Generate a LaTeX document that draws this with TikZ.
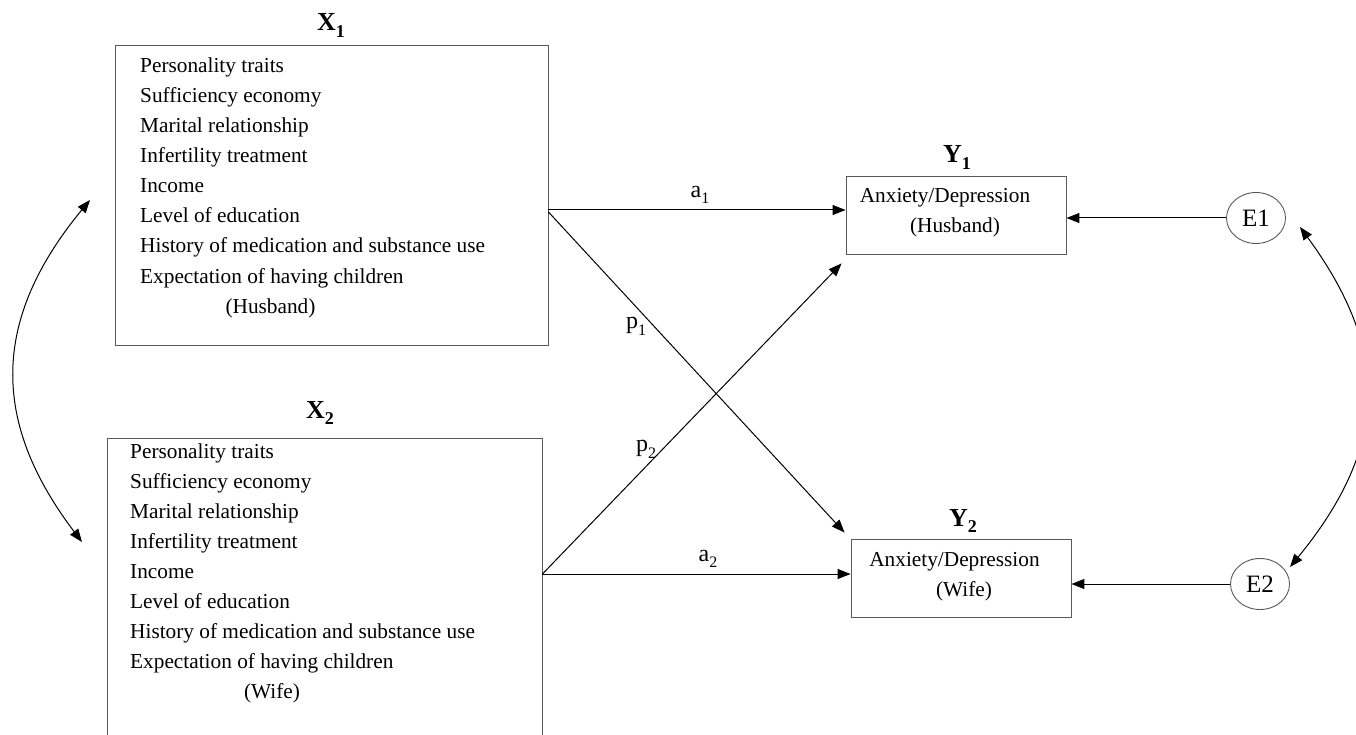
\documentclass[tikz,border=0pt]{standalone}
\usepackage{fontspec}
\setmainfont{Liberation Serif}
\usetikzlibrary{arrows.meta,shapes.geometric,calc}
\newcommand\lowsub[1]{\raisebox{-0.28em}{\fontsize{16}{16}\selectfont #1}}
\newcommand\blowsub[1]{\raisebox{-0.25em}{\fontsize{18}{18}\selectfont\bfseries #1}}
\tikzset{
  txt/.style={inner sep=0pt, font=\fontsize{21.3}{30}\selectfont},
  itm/.style={txt, anchor=base west},
  ctr/.style={txt, anchor=base},
  head/.style={inner sep=0pt, anchor=base, font=\fontsize{26}{30}\selectfont\bfseries},
  varbox/.style={draw=black!65, line width=0.9pt, rectangle, inner sep=0pt},
  err/.style={draw=black!65, line width=0.9pt, ellipse, inner sep=0pt,
    minimum width=59pt, minimum height=51pt, font=\fontsize{25}{25}\selectfont},
  lbl/.style={inner sep=0pt, font=\fontsize{24}{24}\selectfont},
  arr/.style={line width=1pt, -{Triangle[length=13pt,width=10pt]}},
  darr/.style={line width=1pt, {Triangle[length=13pt,width=10pt]}-{Triangle[length=13pt,width=10pt]}}
}
\begin{document}
\begin{tikzpicture}[x=1pt,y=-1pt]
\useasboundingbox (0,0) rectangle (1356,735);
\clip (0,0) rectangle (1356,735);
% boxes
\node[varbox, minimum width=433pt, minimum height=300pt] (X1box) at (331.5,195) {};
\node[varbox, minimum width=435pt, minimum height=330pt] (X2box) at (324.5,603) {};
\node[varbox, minimum width=220pt, minimum height=78pt] (Y1box) at (956,215) {};
\node[varbox, minimum width=220pt, minimum height=78pt] (Y2box) at (961,578) {};
\node[err] (E1) at (1256,218) {E1};
\node[err] (E2) at (1260,584) {E2};
% headings
\node[head] (X1lab) at (331,31) {X\blowsub{1}};
\node[head] (X2lab) at (320,418) {X\blowsub{2}};
\node[head] (Y1lab) at (957,163) {Y\blowsub{1}};
\node[head] (Y2lab) at (963,526) {Y\blowsub{2}};
% X1 items
\foreach \txtitem [count=\i] in {Personality traits, Sufficiency economy, Marital relationship, Infertility treatment, Income, Level of education, History of medication and substance use, Expectation of having children}
  \node[itm] (X1t\i) at (140,{73+30*(\i-1)}) {\txtitem};
\node[ctr] (X1who) at (270.5,313) {(Husband)};
% X2 items
\foreach \txtitem [count=\i] in {Personality traits, Sufficiency economy, Marital relationship, Infertility treatment, Income, Level of education, History of medication and substance use, Expectation of having children}
  \node[itm] (X2t\i) at (130,{458+30*(\i-1)}) {\txtitem};
\node[ctr] (X2who) at (272,698) {(Wife)};
% Y texts
\node[ctr] (Y1t) at (945,203) {Anxiety/Depression};
\node[ctr] (Y1who) at (955,233) {(Husband)};
\node[ctr] (Y2t) at (954.5,566) {Anxiety/Depression};
\node[ctr] (Y2who) at (964,596) {(Wife)};
% path origins
\coordinate (o1) at (X1box.east |- 0,210);
\coordinate (o2) at (X2box.east |- 0,574);
% connectors
\draw[arr] (o1) -- (Y1box.west |- o1);
\draw[arr] ($(o1)+(0,2)$) -- ($(Y2box.north west)+(-6,-6)$);
\draw[arr] (o2) -- ($(Y1box.south west)+(-4,9)$);
\draw[arr] (o2) -- (Y2box.west |- o2);
\draw[arr] (E1.west) -- (Y1box.east |- E1.west);
\draw[arr] (E2.west) -- (Y2box.east |- E2.west);
% covariances
\coordinate (c1a) at (90,200);
\coordinate (c1b) at (82,542);
\coordinate (c2a) at (1300,227);
\coordinate (c2b) at (1290,567);
\draw[darr] (c1a) .. controls (-9,320) and (-9,422) .. (c1b);
\draw[darr] (c2a) .. controls (1390,350) and (1390,445) .. (c2b);
% path labels
\node[lbl] (la1) at (700,195) {a\lowsub{1}};
\node[lbl] (lp1) at (636,326) {p\lowsub{1}};
\node[lbl] (lp2) at (646,449) {p\lowsub{2}};
\node[lbl] (la2) at (708,559) {a\lowsub{2}};
\end{tikzpicture}
\end{document}
